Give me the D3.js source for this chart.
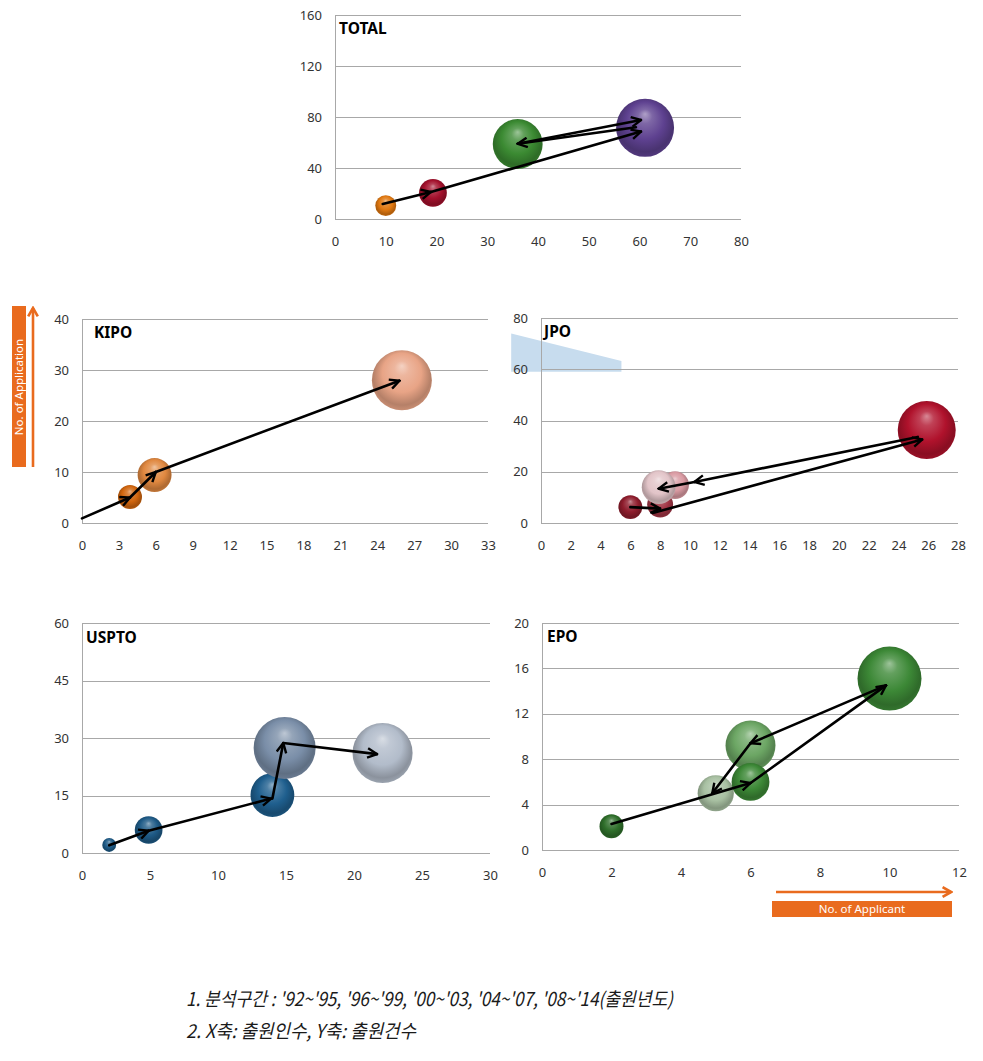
<!DOCTYPE html>
<html>
<head>
<meta charset="utf-8">
<script src="https://cdn.jsdelivr.net/npm/d3@7"></script>
<style>
  body { margin: 0; background: #fff; }
</style>
</head>
<body>
<script>
// periods: '92~'95, '96~'99, '00~'03, '04~'07, '08~'14
// bubbles: [no. of applicant, no. of application, relative bubble size], in draw order
var totalBubbles = [[10, 10.5, 13], [19.3, 20.5, 23], [36, 58.8, 74], [61.1, 71.5, 100]];
var totalColors = ["#E07810", "#A3102C", "#3B8A32", "#5E4190"];
var totalArrows = [[9.4, 11.8, 18.9, 21.2], [18.9, 21.2, 60.3, 68.6], [59.3, 72, 36, 59], [36, 59, 60.3, 77.6]];

var kipoBubbles = [[3.9, 5.1, 16], [5.9, 9.4, 32], [26, 28, 100]];
var kipoColors = ["#D0650E", "#E08840", "#E8A486"];
var kipoArrows = [[0, 0.9, 3.9, 5], [3.9, 5, 6, 10], [6, 10, 25.8, 27.9]];

var jpoBubbles = [[8, 7.2, 20], [9, 14.8, 23], [7.9, 14, 34], [6, 6.2, 17], [25.9, 36.3, 100]];
var jpoColors = ["#A03444", "#D99AA2", "#E2C4C8", "#8E1C2C", "#B0122C"];
var jpoArrows = [[6, 6.2, 8, 5.6], [7.5, 3.9, 25.6, 32.6], [25.3, 33.6, 10.3, 16], [10.3, 16, 7.9, 13.4]];
var jpoShade = [[-2, 74], [5.4, 63.2], [5.4, 59], [-2, 59]];

var usptoBubbles = [[2, 2.1, 5], [4.9, 6, 20], [14, 15.1, 50], [14.9, 27.4, 100], [22.1, 26.1, 94]];
var usptoColors = ["#1E5A86", "#1E5A86", "#1F5F8E", "#7A8EA8", "#B2BCCA"];
var usptoArrows = [[2, 2, 4.9, 5.8], [4.9, 5.8, 13.9, 14.2], [14, 14.2, 14.8, 28.7], [14.8, 28.7, 21.7, 25.8]];

var epoBubbles = [[6, 9.2, 61], [5, 5, 32], [6, 6, 35], [2, 2.1, 14], [10, 15.1, 100]];
var epoColors = ["#6CA664", "#A8C0A2", "#3C8836", "#2E6E2A", "#3C8836"];
var epoArrows = [[2, 2.3, 6, 5.9], [6, 5.9, 9.9, 14.5], [9.9, 14.5, 6, 9.4], [6, 9.4, 4.9, 5]];

var notes = ["1. 분석구간 : '92~'95, '96~'99, '00~'03, '04~'07, '08~'14(출원년도)",
             "2. X축: 출원인수, Y축: 출원건수"];
var noteWidths = [487, 230];

var orange = "#E96B1E";
var tickFont = "'Noto Sans', 'DejaVu Sans', sans-serif";

var svg = d3.select('body').append('svg')
  .attr('width', 983)
  .attr('height', 1061);

var defs = svg.append('defs');

defs.append('marker')
  .attr('id', 'head')
  .attr('viewBox', '0 0 10 10')
  .attr('refX', 9)
  .attr('refY', 5)
  .attr('markerUnits', 'userSpaceOnUse')
  .attr('markerWidth', 12)
  .attr('markerHeight', 12)
  .attr('orient', 'auto')
  .append('path')
  .attr('d', 'M1,1 L9,5 L1,9')
  .style('fill', 'none')
  .style('stroke', '#000')
  .style('stroke-width', 2);

defs.append('marker')
  .attr('id', 'orangeHead')
  .attr('viewBox', '0 0 10 10')
  .attr('refX', 8)
  .attr('refY', 5)
  .attr('markerUnits', 'userSpaceOnUse')
  .attr('markerWidth', 12)
  .attr('markerHeight', 12)
  .attr('orient', 'auto')
  .append('path')
  .attr('d', 'M1,1 L8,5 L1,9')
  .style('fill', 'none')
  .style('stroke', orange)
  .style('stroke-width', 2.2);

var gradId = 0;
var sphere = function(color) {
  var id = 'sph' + (gradId++);
  var base = d3.color(color);
  var grad = defs.append('radialGradient')
    .attr('id', id)
    .attr('cx', '50%').attr('cy', '46%').attr('r', '56%')
    .attr('fx', '50%').attr('fy', '26%');
  var stops = [
    [0, d3.interpolateRgb(color, '#fff')(0.5)],
    [0.22, d3.interpolateRgb(color, '#fff')(0.2)],
    [0.58, base.formatHex()],
    [0.86, base.darker(0.7).formatHex()],
    [1, base.darker(0.35).formatHex()]
  ];
  grad.selectAll('stop').data(stops).enter().append('stop')
    .attr('offset', function(d) { return d[0]; })
    .attr('stop-color', function(d) { return d[1]; });
  return 'url(#' + id + ')';
};

var drawPanel = function(p) {
  var x = d3.scaleLinear().domain([0, p.xMax]).range([p.left, p.right]);
  var y = d3.scaleLinear().domain([0, p.yMax]).range([p.bottom, p.top]);
  var r = d3.scaleSqrt().domain([0, 100]).range([0, p.maxR]);
  var xTicks = d3.range(0, p.xMax + 1e-9, p.xStep);
  var yTicks = d3.range(0, p.yMax + 1e-9, p.yStep);

  var g = svg.append('g');

  if (p.shade) {
    g.append('polygon')
      .attr('points', p.shade.map(function(d) { return x(d[0]) + ',' + y(d[1]); }).join(' '))
      .style('fill', '#C7DCEE');
  }

  g.selectAll('.grid')
    .data(yTicks)
    .enter().append('line')
    .attr('x1', p.left)
    .attr('x2', p.right)
    .attr('y1', function(d) { return Math.round(y(d)) + 0.5; })
    .attr('y2', function(d) { return Math.round(y(d)) + 0.5; })
    .style('stroke', '#A8A8A8')
    .style('stroke-width', 1);

  g.append('line')
    .attr('x1', Math.round(p.left) + 0.5)
    .attr('x2', Math.round(p.left) + 0.5)
    .attr('y1', p.top)
    .attr('y2', p.bottom)
    .style('stroke', '#A8A8A8');

  var xAxis = g.append('g')
    .attr('transform', 'translate(0,' + p.bottom + ')')
    .call(d3.axisBottom(x).tickValues(xTicks).tickSize(0).tickPadding(18).tickFormat(d3.format('d')));
  var yAxis = g.append('g')
    .attr('transform', 'translate(' + p.left + ',0)')
    .call(d3.axisLeft(y).tickValues(yTicks).tickSize(0).tickPadding(13).tickFormat(d3.format('d')));
  [xAxis, yAxis].forEach(function(a) {
    a.select('.domain').remove();
    a.selectAll('text')
      .style('font-family', tickFont)
      .style('font-size', '13px')
      .style('fill', '#333');
  });

  g.selectAll('.bubble')
    .data(p.bubbles)
    .enter().append('circle')
    .attr('cx', function(d) { return x(d[0]); })
    .attr('cy', function(d) { return y(d[1]); })
    .attr('r', function(d) { return r(d[2]); })
    .style('fill', function(d, i) { return sphere(p.colors[i]); });

  g.selectAll('.arrow')
    .data(p.arrows)
    .enter().append('line')
    .attr('x1', function(d) { return x(d[0]); })
    .attr('y1', function(d) { return y(d[1]); })
    .attr('x2', function(d) { return x(d[2]); })
    .attr('y2', function(d) { return y(d[3]); })
    .attr('marker-end', 'url(#head)')
    .style('stroke', '#000')
    .style('stroke-width', 2.6)
    .style('stroke-linecap', 'round');

  g.append('text')
    .text(p.name)
    .attr('x', p.left + p.titleDx)
    .attr('y', p.top + p.titleDy)
    .style('font-family', tickFont)
    .style('font-weight', 'bold')
    .style('font-size', '15.5px')
    .style('fill', '#000');
};

drawPanel({ name: 'TOTAL', left: 335, right: 741, top: 15, bottom: 219, xMax: 80, xStep: 10, yMax: 160, yStep: 40,
  maxR: 29, bubbles: totalBubbles, colors: totalColors, arrows: totalArrows, titleDx: 4, titleDy: 19 });
drawPanel({ name: 'KIPO', left: 82, right: 488, top: 319, bottom: 523, xMax: 33, xStep: 3, yMax: 40, yStep: 10,
  maxR: 30, bubbles: kipoBubbles, colors: kipoColors, arrows: kipoArrows, titleDx: 12, titleDy: 19 });
drawPanel({ name: 'JPO', left: 541, right: 958, top: 318, bottom: 523, xMax: 28, xStep: 2, yMax: 80, yStep: 20,
  maxR: 29, bubbles: jpoBubbles, colors: jpoColors, arrows: jpoArrows, shade: jpoShade, titleDx: 3, titleDy: 19 });
drawPanel({ name: 'USPTO', left: 82, right: 490, top: 623, bottom: 853, xMax: 30, xStep: 5, yMax: 60, yStep: 15,
  maxR: 31, bubbles: usptoBubbles, colors: usptoColors, arrows: usptoArrows, titleDx: 4, titleDy: 20 });
drawPanel({ name: 'EPO', left: 542, right: 959, top: 623, bottom: 850, xMax: 12, xStep: 2, yMax: 20, yStep: 4,
  maxR: 32, bubbles: epoBubbles, colors: epoColors, arrows: epoArrows, titleDx: 5, titleDy: 19 });

/*
 * Axis captions
 */
svg.append('rect')
  .attr('x', 12).attr('y', 306).attr('width', 14).attr('height', 161)
  .style('fill', orange);
svg.append('text')
  .text('No. of Application')
  .attr('transform', 'translate(23,387) rotate(-90)')
  .style('text-anchor', 'middle')
  .style('font-family', tickFont)
  .style('font-size', '11.5px')
  .style('fill', '#fff');
svg.append('line')
  .attr('x1', 33).attr('x2', 33).attr('y1', 467).attr('y2', 308)
  .attr('marker-end', 'url(#orangeHead)')
  .style('stroke', orange)
  .style('stroke-width', 2.6);

svg.append('rect')
  .attr('x', 772).attr('y', 901).attr('width', 180).attr('height', 16)
  .style('fill', orange);
svg.append('text')
  .text('No. of Applicant')
  .attr('x', 862).attr('y', 913)
  .style('text-anchor', 'middle')
  .style('font-family', tickFont)
  .style('font-size', '11.5px')
  .style('fill', '#fff');
svg.append('line')
  .attr('x1', 776).attr('x2', 951).attr('y1', 892).attr('y2', 892)
  .attr('marker-end', 'url(#orangeHead)')
  .style('stroke', orange)
  .style('stroke-width', 2.6);

svg.selectAll('.note')
  .data(notes)
  .enter().append('text')
  .text(function(d) { return d; })
  .attr('x', 186)
  .attr('y', function(d, i) { return 1006 + i * 32; })
  .attr('textLength', function(d, i) { return noteWidths[i]; })
  .attr('lengthAdjust', 'spacingAndGlyphs')
  .style('font-family', "'Noto Sans CJK KR', sans-serif")
  .style('font-style', 'italic')
  .style('font-size', '19px')
  .style('fill', '#1a1a1a');
</script>
</body>
</html>
